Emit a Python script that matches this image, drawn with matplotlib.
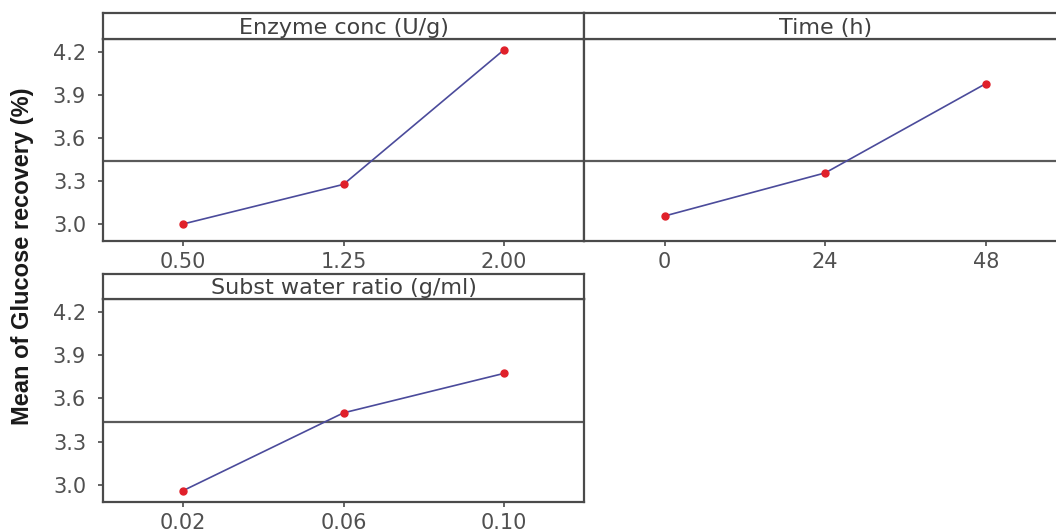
import matplotlib
matplotlib.use("Agg")
import matplotlib.pyplot as plt

# ---------- data ----------
enzyme_levels = ["0.50", "1.25", "2.00"]
enzyme_means = [3.00, 3.277, 4.217]

time_levels = ["0", "24", "48"]
time_means = [3.056, 3.357, 3.98]

ratio_levels = ["0.02", "0.06", "0.10"]
ratio_means = [2.96, 3.50, 3.774]

grand_mean = 3.437
panel_titles = ["Enzyme conc (U/g)", "Time (h)", "Subst water ratio (g/ml)"]
y_ticks = [3.0, 3.3, 3.6, 3.9, 4.2]

# ---------- style ----------
W, H = 1056, 532
frame_col = "#4a4a4a"
text_col = "#505050"
line_col = "#4b4b9b"
dot_col = "#e0202a"
mean_col = "#5a5a5a"

fig = plt.figure(figsize=(W / 100, H / 100), dpi=100)


def px_box(x0, y0, x1, y1):
    # pixel box (top-left origin) -> figure fraction rect
    return [x0 / W, 1 - y1 / H, (x1 - x0) / W, (y1 - y0) / H]


def draw_panel(box, strip_box, levels, means, title, show_y):
    ax = fig.add_axes(px_box(*box))
    xs = list(range(len(levels)))
    ax.axhline(grand_mean, color=mean_col, lw=1.6, zorder=1)
    ax.plot(xs, means, color=line_col, lw=1.2, zorder=2)
    ax.plot(xs, means, "o", color=dot_col, ms=5, mec=dot_col, zorder=3)
    ax.set_xlim(-0.5, len(levels) - 0.5)
    ax.set_ylim(2.885, 4.29)
    ax.set_xticks(xs)
    ax.set_xticklabels(levels)
    ax.set_yticks(y_ticks)
    ax.set_yticklabels([f"{v:.1f}" for v in y_ticks])
    ax.tick_params(direction="out", length=3.5, width=1.2, color=frame_col,
                   labelsize=15, labelcolor=text_col, pad=5)
    ax.tick_params(axis="y", pad=8.5)
    if not show_y:
        ax.tick_params(axis="y", left=False, labelleft=False)
    for s in ax.spines.values():
        s.set_color(frame_col)
        s.set_linewidth(1.6)

    sax = fig.add_axes(px_box(*strip_box))
    sax.set_xticks([])
    sax.set_yticks([])
    for s in sax.spines.values():
        s.set_color(frame_col)
        s.set_linewidth(1.6)
    sax.text(0.5, 0.45, title, ha="center", va="center", fontsize=16,
             color="#404040", transform=sax.transAxes)
    return ax


draw_panel((102.7, 39.3, 584.3, 240.5), (102.7, 13.3, 584.3, 39.3),
           enzyme_levels, enzyme_means, panel_titles[0], True)
draw_panel((584.3, 39.3, 1066, 240.5), (584.3, 13.3, 1066, 39.3),
           time_levels, time_means, panel_titles[1], False)
draw_panel((102.7, 299, 584.3, 501.5), (102.7, 274, 584.3, 299),
           ratio_levels, ratio_means, panel_titles[2], True)

fig.text(23 / W, 1 - 256 / H, "Mean of Glucose recovery (%)", rotation=90,
         ha="center", va="center", fontsize=17, fontweight="bold",
         family="Liberation Sans", color="#1a1a1a")

fig.savefig("out.png", dpi=100)
